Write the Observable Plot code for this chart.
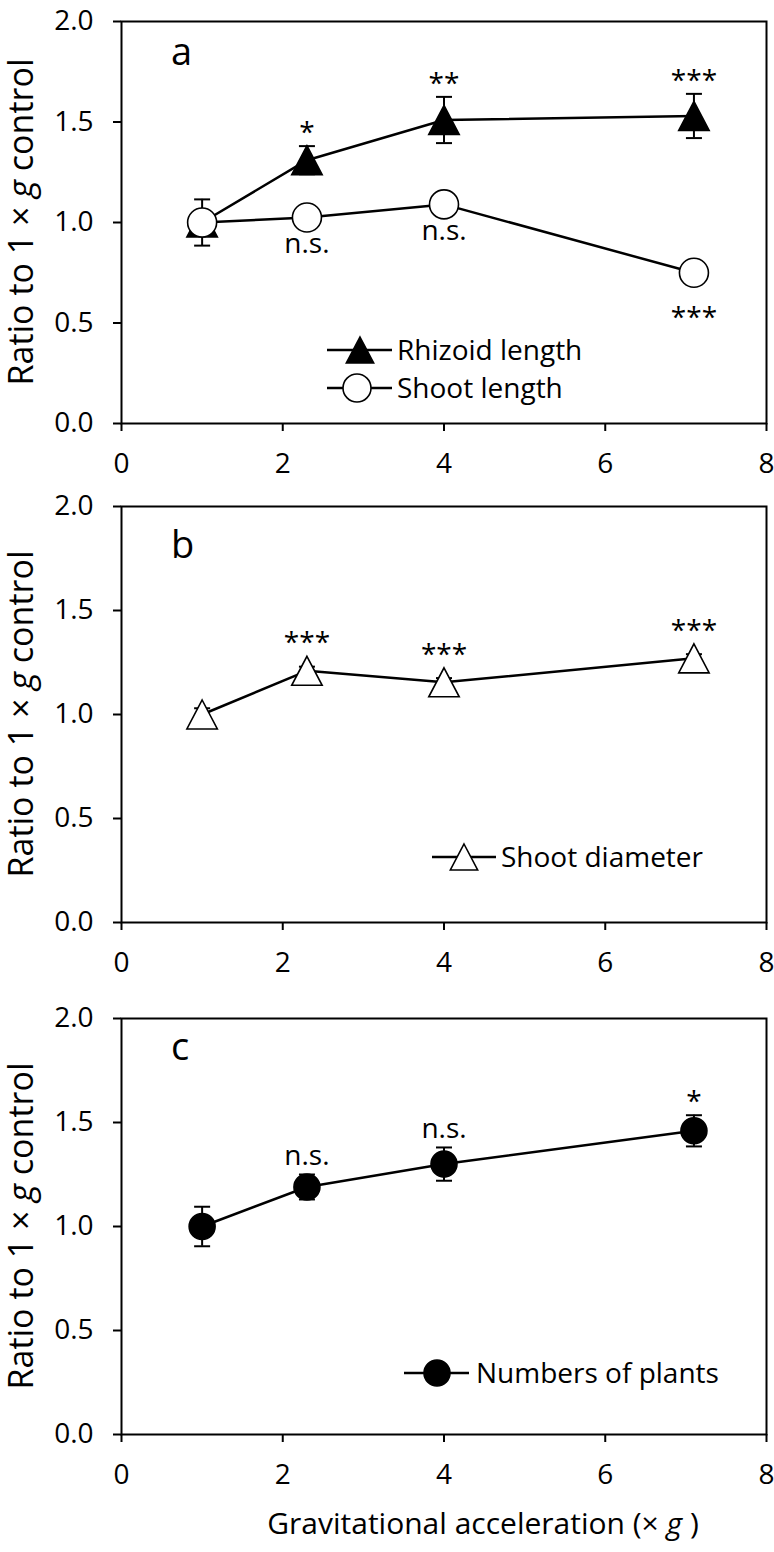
<!DOCTYPE html>
<html><head><meta charset="utf-8">
<script src="https://cdn.jsdelivr.net/npm/d3@7"></script>
<script src="https://cdn.jsdelivr.net/npm/@observablehq/plot@0.6"></script>
<style>
body{margin:0;background:#fff;}
#chart{width:774px;}
#chart svg{display:block;overflow:visible;}
</style>
</head><body><div id="chart"></div>
<script>
// ---- data ----
const gLevels = [1, 2.3, 4, 7.1];
const xTicks = [0, 2, 4, 6, 8];
const yTicks = [0, 0.5, 1.0, 1.5, 2.0];

const rhizoidLength = [1.00, 1.31, 1.51, 1.53];
const rhizoidLengthErr = [0.115, 0.07, 0.115, 0.11];
const rhizoidLengthSig = ["", "*", "**", "***"];

const shootLength = [1.00, 1.025, 1.09, 0.75];
const shootLengthErr = [0.04, 0.03, 0.03, 0.03];
const shootLengthSig = ["", "n.s.", "n.s.", "***"];

const shootDiameter = [1.00, 1.21, 1.155, 1.27];
const shootDiameterErr = [0.03, 0.02, 0.02, 0.02];
const shootDiameterSig = ["", "***", "***", "***"];

const plantNumbers = [1.00, 1.19, 1.30, 1.46];
const plantNumbersErr = [0.095, 0.06, 0.08, 0.075];
const plantNumbersSig = ["", "n.s.", "n.s.", "*"];

const panelLetters = ["a", "b", "c"];
const legendNames = ["Rhizoid length", "Shoot length", "Shoot diameter", "Numbers of plants"];
const yTitle = ["Ratio to 1 × ", "g", " control"];
const xTitle = ["Gravitational acceleration (× ", "g", " )"];

// ---- styling ----
const FONT = "'Open Sans', 'DejaVu Sans', sans-serif";

const triSym = {draw(ctx, size){const r=Math.sqrt(size/Math.PI);const w=r*1.05;ctx.moveTo(0,-r);ctx.lineTo(w,r);ctx.lineTo(-w,r);ctx.closePath();}};
const circSym = {draw(ctx, size){const r=Math.sqrt(size/Math.PI);ctx.moveTo(r,0);ctx.arc(0,0,r,0,2*Math.PI);}};
const capSym = {draw(ctx, size){const r=Math.sqrt(size/Math.PI);ctx.moveTo(-r,0);ctx.lineTo(r,0);}};

function rowsOf(values, errs, sigs){
  return gLevels.map((g,i)=>({g, v: values[i], e: errs[i], s: sigs[i]}));
}

function seriesMarks(s, ppu){
  const rows = rowsOf(s.values, s.errs, s.sigs);
  const sigY = d => {
    const ext = Math.max(d.e*ppu, s.r);
    const star = d.s.includes("*");
    if (s.sigPos === "above") return d.v + (ext + (star ? 4 : 9)) / ppu;
    return d.v - (ext + (star ? 40 : 21.5)) / ppu;
  };
  return [
    Plot.line(rows, {x:"g", y:"v", stroke:"black", strokeWidth:2.5}),
    Plot.ruleX(rows, {x:"g", y1:d=>d.v-d.e, y2:d=>d.v+d.e, stroke:"black", strokeWidth:2}),
    Plot.dot(rows, {x:"g", y:d=>d.v+d.e, symbol:capSym, r:8, fill:"none", stroke:"black", strokeWidth:2}),
    Plot.dot(rows, {x:"g", y:d=>d.v-d.e, symbol:capSym, r:8, fill:"none", stroke:"black", strokeWidth:2}),
    Plot.dot(rows, {x:"g", y:"v", symbol: s.sym, r: s.r, fill: s.fill, stroke:"black", strokeWidth:1.6}),
    Plot.text(rows.filter(d=>d.s), {x:"g", y:sigY, text:"s", lineAnchor:"bottom", fontSize:28, fill:"black"})
  ];
}

function panel(cfg){
  const plotH = cfg.height - cfg.marginTop - cfg.marginBottom;
  const ppu = plotH / 2;
  const svg = Plot.plot({
    width: 774, height: cfg.height,
    marginLeft: 121, marginRight: 8, marginTop: cfg.marginTop, marginBottom: cfg.marginBottom,
    style: {fontFamily: FONT, fontSize: "28px", color: "black", background: "white", overflow: "visible"},
    x: {domain: [0, 8], ticks: xTicks},
    y: {domain: [0, 2], ticks: yTicks, tickFormat: d3.format(".1f")},
    marks: [
      Plot.axisX({ticks: xTicks, tickSize: 8, tickPadding: 22, strokeWidth: 2, label: null, fontSize: 28}),
      Plot.axisY({ticks: yTicks, tickSize: 8, tickPadding: 20, strokeWidth: 2, label: null, tickFormat: d3.format(".1f"), fontSize: 28}),
      ...cfg.series.flatMap(s => seriesMarks(s, ppu)),
      Plot.frame({stroke: "black", strokeWidth: 2})
    ]
  });
  const sel = d3.select(svg);
  // y title
  const yt = sel.append("text")
    .attr("transform", `translate(21,${cfg.marginTop + plotH/2}) rotate(-90)`)
    .attr("text-anchor", "middle").attr("dy", "0.35em")
    .attr("font-family", FONT).attr("font-size", 34).attr("fill", "black");
  yt.append("tspan").text(yTitle[0]);
  yt.append("tspan").attr("font-style", "italic").text(yTitle[1]);
  yt.append("tspan").text(yTitle[2]);
  // panel letter
  sel.append("text").attr("x", 171).attr("y", cfg.marginTop + cfg.letterBase)
    .attr("text-anchor", "start")
    .attr("font-family", FONT).attr("font-size", 38).attr("fill", "black").text(cfg.letter);
  // legend
  cfg.legend.forEach(L => {
    const g = sel.append("g").attr("transform", `translate(0,${L.y})`);
    g.append("line").attr("x1", L.x1).attr("x2", L.x2).attr("y1", 0).attr("y2", 0).attr("stroke", "black").attr("stroke-width", 2.5);
    g.append("path").attr("transform", `translate(${L.mx},0)`)
      .attr("d", d3.symbol(L.sym, Math.PI*L.r*L.r)()).attr("fill", L.fill).attr("stroke", "black").attr("stroke-width", 1.6);
    g.append("text").attr("x", L.tx).attr("dy", "0.35em").attr("text-anchor", "start")
      .attr("font-family", FONT).attr("font-size", 28).attr("fill", "black").text(L.name);
  });
  if (cfg.xTitle) {
    const xt = sel.append("text").attr("x", 483).attr("y", cfg.xTitleY).attr("text-anchor", "middle").attr("dy", "0.35em")
      .attr("font-family", FONT).attr("font-size", 30).attr("fill", "black");
    xt.append("tspan").text(xTitle[0]);
    xt.append("tspan").attr("font-style", "italic").text(xTitle[1]);
    xt.append("tspan").text(xTitle[2]);
  }
  return svg;
}

const chart = document.getElementById("chart");
chart.append(panel({
  height: 499, marginTop: 21, marginBottom: 76, letter: panelLetters[0], letterBase: 44,
  series: [
    {values: rhizoidLength, errs: rhizoidLengthErr, sigs: rhizoidLengthSig, sym: triSym, r: 14.5, fill: "black", sigPos: "above"},
    {values: shootLength, errs: shootLengthErr, sigs: shootLengthSig, sym: circSym, r: 14.5, fill: "white", sigPos: "below"}
  ],
  legend: [
    {y: 350, x1: 327, x2: 392, mx: 360, tx: 397, sym: triSym, r: 13, fill: "black", name: legendNames[0]},
    {y: 388, x1: 327, x2: 392, mx: 357, tx: 397, sym: circSym, r: 14, fill: "white", name: legendNames[1]}
  ]
}));
chart.append(panel({
  height: 513, marginTop: 7, marginBottom: 90, letter: panelLetters[1], letterBase: 52,
  series: [
    {values: shootDiameter, errs: shootDiameterErr, sigs: shootDiameterSig, sym: triSym, r: 14.5, fill: "white", sigPos: "above"}
  ],
  legend: [
    {y: 358, x1: 432, x2: 496, mx: 464, tx: 501, sym: triSym, r: 13, fill: "white", name: legendNames[2]}
  ]
}));
chart.append(panel({
  height: 540, marginTop: 6, marginBottom: 118, letter: panelLetters[2], letterBase: 42,
  series: [
    {values: plantNumbers, errs: plantNumbersErr, sigs: plantNumbersSig, sym: circSym, r: 13, fill: "black", sigPos: "above"}
  ],
  legend: [
    {y: 361, x1: 404, x2: 469, mx: 437, tx: 476, sym: circSym, r: 13, fill: "black", name: legendNames[3]}
  ],
  xTitle: true, xTitleY: 511
}));
</script></body></html>
